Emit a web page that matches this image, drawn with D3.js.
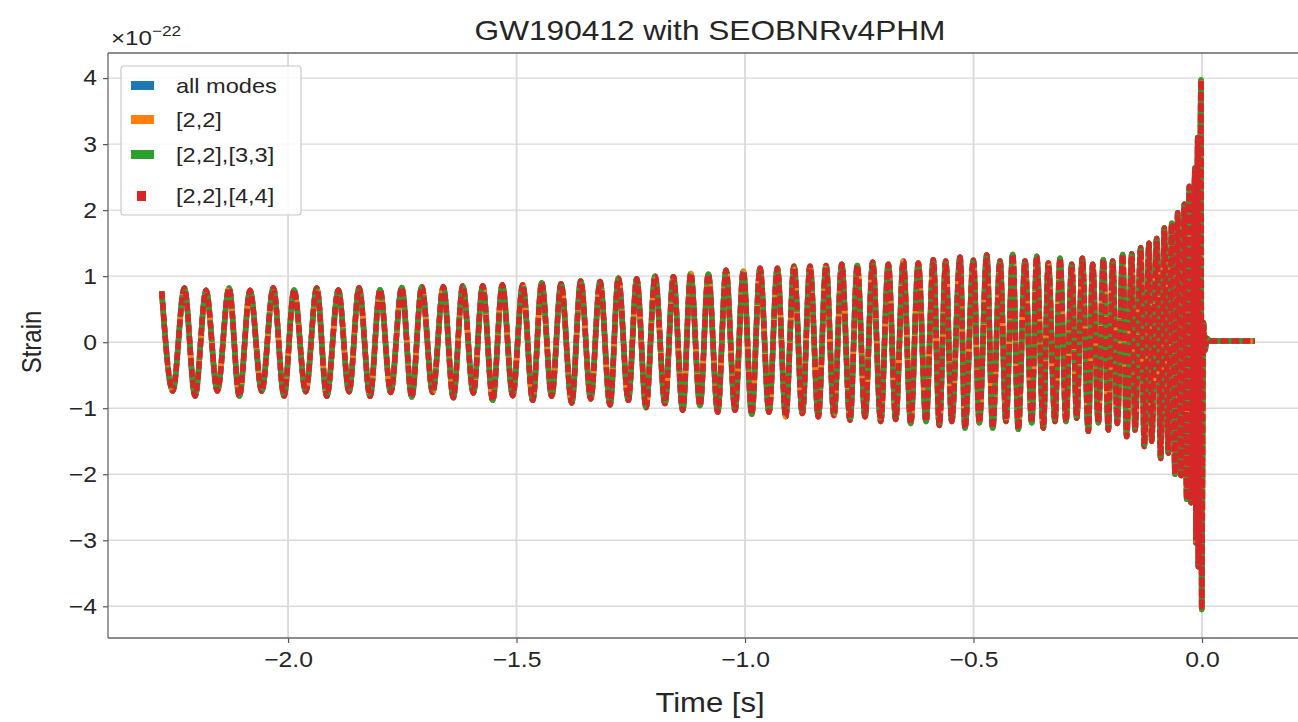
<!DOCTYPE html>
<html>
<head>
  <meta charset="utf-8">
  <title>GW190412 with SEOBNRv4PHM</title>
  <script src="https://d3js.org/d3.v7.min.js"></script>
  <style>
    body { margin: 0; background: #fff; }
    text { font-family: "Liberation Sans", Arial, sans-serif; fill: #262626; }
  </style>
</head>
<body>
  <div id="chart"></div>

  <script>
    // Waveform extrema (time in s, strain in units of 1e-22)
    const peakTime = [-2.2764, -2.2269, -2.1794, -2.1291, -2.0832, -2.0322, -1.9869, -1.9372, -1.8899, -1.8446, -1.7987, -1.7512,
      -1.7074, -1.6602, -1.6177, -1.5740, -1.5311, -1.4864, -1.4449, -1.4026, -1.3595, -1.3173, -1.2772, -1.2370, -1.1969, -1.1569,
      -1.1188, -1.0803, -1.0416, -1.0037, -0.9672, -0.9293, -0.8928, -0.8578, -0.8228, -0.7884, -0.7543, -0.7206, -0.6864, -0.6536, -0.6208, -0.5880,
      -0.5608, -0.5295, -0.5004, -0.4711, -0.4420, -0.4142, -0.3873, -0.3617, -0.3363, -0.3107, -0.2851, -0.2619, -0.2392, -0.2160,
      -0.1954, -0.1735, -0.1538, -0.1341, -0.1160, -0.0991, -0.0825, -0.0663, -0.0532, -0.0387, -0.0278, -0.0153, -0.0094, -0.0022];
    const peakStrain = [0.77, 0.82, 0.785, 0.82, 0.785, 0.825, 0.79, 0.82, 0.79, 0.825, 0.795, 0.83,
      0.84, 0.84, 0.85, 0.855, 0.87, 0.87, 0.9, 0.885, 0.925, 0.92, 0.97, 0.96, 1.0, 0.99,
      1.04, 1.03, 1.09, 1.075, 1.12, 1.12, 1.15, 1.15, 1.16, 1.18, 1.16, 1.21, 1.18, 1.23, 1.2, 1.25,
      1.23, 1.29, 1.24, 1.32, 1.23, 1.33, 1.23, 1.30, 1.20, 1.27, 1.18, 1.27, 1.18, 1.25,
      1.23, 1.33, 1.34, 1.43, 1.5, 1.57, 1.73, 1.8, 1.96, 2.09, 2.36, 2.64, 3.1, 3.97];
    const troughTime = [-2.2523, -2.2035, -2.1547, -2.1066, -2.0575, -2.0088, -1.9613, -1.9153, -1.8665, -1.8206, -1.7753, -1.7293,
      -1.6834, -1.6383, -1.5945, -1.5521, -1.5083, -1.4646, -1.4230, -1.3792, -1.3376, -1.2954, -1.2554, -1.2166, -1.1751,
      -1.1363, -1.0985, -1.0597, -1.0219, -0.9853, -0.9475, -0.9109, -0.8746, -0.8396, -0.8053, -0.7702, -0.7374, -0.7031, -0.6702, -0.6374, -0.6039,
      -0.5748, -0.5477, -0.5186, -0.4873, -0.4580, -0.4289, -0.4020, -0.3726, -0.3473, -0.3217, -0.2976, -0.2742, -0.2488, -0.2269,
      -0.2050, -0.1853, -0.1648, -0.1466, -0.1263, -0.1101, -0.0904, -0.0737, -0.0591, -0.0460, -0.0335, -0.0241, -0.0131, -0.0081, -0.0007];
    const troughStrain = [-0.74, -0.815, -0.74, -0.815, -0.74, -0.815, -0.75, -0.82, -0.75, -0.82, -0.76, -0.83,
      -0.76, -0.84, -0.77, -0.88, -0.81, -0.88, -0.82, -0.92, -0.86, -0.95, -0.88, -0.99, -0.93,
      -1.03, -0.96, -1.06, -1.03, -1.09, -1.06, -1.13, -1.08, -1.13, -1.11, -1.18, -1.13, -1.2, -1.17, -1.23, -1.2,
      -1.26, -1.2, -1.3, -1.22, -1.3, -1.2, -1.32, -1.22, -1.3, -1.2, -1.2, -1.15, -1.35, -1.22,
      -1.33, -1.23, -1.43, -1.33, -1.58, -1.5, -1.76, -1.68, -2.0, -2.02, -2.38, -2.43, -3.04, -3.4, -4.05];
    // ringdown and flat tail after merger
    const ringTime = [0.0030, 0.0065, 0.0110, 0.0170, 0.1160];
    const ringStrain = [0.30, -0.12, 0.06, 0.02, 0.02];

    const seriesNames = ["all modes", "[2,2]", "[2,2],[3,3]", "[2,2],[4,4]"];
    const xTicks = [-2.0, -1.5, -1.0, -0.5, 0.0];
    const yTicks = [-4, -3, -2, -1, 0, 1, 2, 3, 4];

    const styles = {
      "all modes":   { color: "#1f77b4", dash: null },
      "[2,2]":       { color: "#ff7f0e", dash: null },
      "[2,2],[3,3]": { color: "#2ca02c", dash: "22,3" },
      "[2,2],[4,4]": { color: "#d62728", dash: "8,3" }
    };

    const W = 1298, H = 722;
    const padL = 108, padR = 1312, padT = 53, padB = 638;
    const SX = 1.15; // text in the picture is a little wider than the font

    const svg = d3.select("#chart").append("svg")
      .attr("width", W).attr("height", H);

    const x = d3.scaleLinear().domain([-2.394, 0.2407]).range([padL, padR]);
    const y = d3.scaleLinear().domain([-4.48, 4.38]).range([padB, padT]);

    // grid
    svg.append("g").selectAll("line").data(xTicks).join("line")
      .attr("x1", d => x(d)).attr("x2", d => x(d))
      .attr("y1", padT).attr("y2", padB)
      .attr("stroke", "#d9d9d9").attr("stroke-width", 1.8);
    svg.append("g").selectAll("line").data(yTicks).join("line")
      .attr("x1", padL).attr("x2", padR)
      .attr("y1", d => y(d)).attr("y2", d => y(d))
      .attr("stroke", "#d9d9d9").attr("stroke-width", 1.4);

    // waveform points
    const pts = d3.sort(
      peakTime.map((t, i) => ({ t, h: peakStrain[i] }))
        .concat(troughTime.map((t, i) => ({ t, h: troughStrain[i] })))
        .concat(ringTime.map((t, i) => ({ t, h: ringStrain[i] }))),
      d => d.t);

    const line = d3.line()
      .x(d => x(d.t))
      .y(d => y(d.h))
      .curve(d3.curveMonotoneX);

    seriesNames.forEach(name => {
      svg.append("path")
        .datum(pts)
        .attr("d", line)
        .attr("fill", "none")
        .attr("stroke", styles[name].color)
        .attr("stroke-width", 5.5)
        .attr("stroke-linejoin", "round")
        .attr("stroke-dasharray", styles[name].dash);
    });

    // axes
    const fmt = d3.format(".1f");
    const xAxis = svg.append("g")
      .attr("transform", "translate(0," + padB + ")")
      .call(d3.axisBottom(x).tickValues(xTicks).tickFormat(fmt).tickSize(5).tickPadding(9));
    const yAxis = svg.append("g")
      .attr("transform", "translate(" + padL + ",0)")
      .call(d3.axisLeft(y).tickValues(yTicks).tickFormat(d3.format("d")).tickSize(5).tickPadding(6));

    [xAxis, yAxis].forEach(g => {
      g.select(".domain").remove();
      g.selectAll(".tick line").attr("stroke", "#555").attr("stroke-width", 1.2);
      g.selectAll(".tick text").attr("font-size", 21.5).attr("fill", "#262626")
        .style("font-family", "'Liberation Sans', Arial, sans-serif");
    });
    xAxis.selectAll(".tick text").attr("transform", "scale(" + SX + ",1)");
    yAxis.selectAll(".tick text").attr("x", -11 / SX).attr("transform", "scale(" + SX + ",1)");

    // spines
    svg.append("line").attr("x1", padL).attr("x2", padL).attr("y1", padT).attr("y2", padB)
      .attr("stroke", "#666").attr("stroke-width", 1.3);
    svg.append("line").attr("x1", padL).attr("x2", padR).attr("y1", padB).attr("y2", padB)
      .attr("stroke", "#666").attr("stroke-width", 1.3);
    svg.append("line").attr("x1", padL).attr("x2", padR).attr("y1", padT).attr("y2", padT)
      .attr("stroke", "#666").attr("stroke-width", 1.3);

    function label(str, px, py, size, anchor, rot) {
      return svg.append("text")
        .attr("transform", "translate(" + px + "," + py + ")" + (rot ? " rotate(" + rot + ")" : "") +
          (rot ? " scale(1," + SX + ")" : " scale(" + SX + ",1)"))
        .attr("font-size", size)
        .attr("text-anchor", anchor)
        .text(str);
    }

    label("GW190412 with SEOBNRv4PHM", (padL + padR) / 2, 40, 27.5, "middle");
    label("Time [s]", (padL + padR) / 2, 712, 27, "middle");
    label("Strain", 41, 342, 24, "middle", -90);

    // offset text
    const off = label("×10", 111, 45, 21, "start");
    off.append("tspan").attr("dy", -9).attr("font-size", 15).text("−22");

    // legend
    const lg = svg.append("g");
    lg.append("rect")
      .attr("x", 121).attr("y", 66).attr("width", 180).attr("height", 149)
      .attr("rx", 3).attr("fill", "#fff").attr("fill-opacity", 0.85)
      .attr("stroke", "#c8c8c8").attr("stroke-width", 1.2);
    const rowY = [86, 120, 155, 196];
    seriesNames.forEach((name, i) => {
      const small = name === "[2,2],[4,4]";
      lg.append("rect")
        .attr("x", small ? 137 : 131).attr("y", rowY[i] - 5)
        .attr("width", small ? 9 : 23).attr("height", small ? 10 : 9)
        .attr("fill", styles[name].color);
      lg.append("text")
        .attr("transform", "translate(176," + (rowY[i] + 7) + ") scale(" + SX + ",1)")
        .attr("font-size", 20.5)
        .text(name);
    });
  </script>
</body>
</html>
